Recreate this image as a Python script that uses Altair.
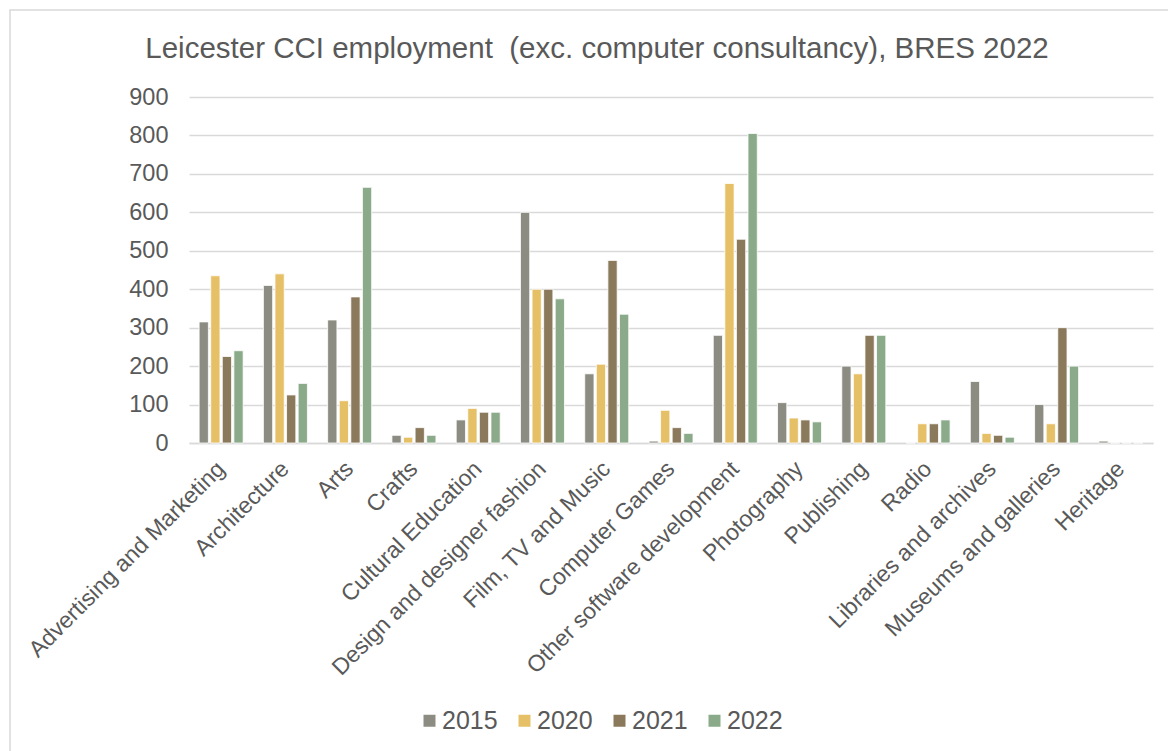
import altair as alt
import pandas as pd

categories = [
    "Advertising and Marketing", "Architecture", "Arts", "Crafts",
    "Cultural Education", "Design and designer fashion", "Film, TV and Music",
    "Computer Games", "Other software development", "Photography",
    "Publishing", "Radio", "Libraries and archives", "Museums and galleries",
    "Heritage",
]
years = ["2015", "2020", "2021", "2022"]
v2015 = [315, 410, 320, 20, 60, 600, 180, 5, 280, 105, 200, 0, 160, 100, 5]
v2020 = [435, 440, 110, 15, 90, 400, 205, 85, 675, 65, 180, 50, 25, 50, 0]
v2021 = [225, 125, 380, 40, 80, 400, 475, 40, 530, 60, 280, 50, 20, 300, 0]
v2022 = [240, 155, 665, 20, 80, 375, 335, 25, 805, 55, 280, 60, 15, 200, 0]
colors = ["#8C8C83", "#E6C067", "#8B795B", "#8AAA8A"]
y_ticks = [0, 100, 200, 300, 400, 500, 600, 700, 800, 900]

rows = []
for i, c in enumerate(categories):
    for yr, vals in zip(years, [v2015, v2020, v2021, v2022]):
        rows.append({"category": c, "year": yr, "value": vals[i]})
df = pd.DataFrame(rows)

FONT = "Liberation Sans"
TXT = "#595959"

W, H = 964, 346
LEFT, TOP = 189, 97

border = alt.Chart(pd.DataFrame({"a": [0]})).mark_rect(
    fillOpacity=0, stroke="#D9D9D9", strokeWidth=1.5
).encode(
    x=alt.value(10 - LEFT), x2=alt.value(1200 - LEFT),
    y=alt.value(10 - TOP), y2=alt.value(800 - TOP),
)

bars = alt.Chart(df).mark_bar(stroke="white", strokeWidth=0.8).encode(
    x=alt.X(
        "category:N", sort=categories,
        scale=alt.Scale(paddingInner=0.315, paddingOuter=0.1575),
        axis=alt.Axis(
            title=None, labelAngle=-45, labelAlign="right", labelBaseline="middle",
            labelFont=FONT, labelFontSize=23, labelColor=TXT, labelPadding=22,
            ticks=False, domainColor="#D9D9D9", domainWidth=1.5, labelLimit=400,
        ),
    ),
    xOffset=alt.XOffset("year:N", sort=years, scale=alt.Scale(paddingInner=0.2)),
    y=alt.Y(
        "value:Q", scale=alt.Scale(domain=[0, 900], nice=False),
        axis=alt.Axis(
            title=None, values=y_ticks, domain=False, ticks=False,
            labelFont=FONT, labelFontSize=23.5, labelColor=TXT, labelPadding=21,
            gridColor="#D9D9D9", gridWidth=1.3,
        ),
    ),
    color=alt.Color(
        "year:N", sort=years,
        scale=alt.Scale(domain=years, range=colors),
        legend=alt.Legend(
            title=None, orient="none", direction="horizontal",
            legendX=417 - LEFT, legendY=708 - TOP,
            symbolType="square", symbolSize=144, symbolStrokeWidth=0,
            labelFont=FONT, labelFontSize=25, labelColor=TXT,
            labelOffset=0, columnPadding=14,
        ),
    ),
)

chart = alt.layer(border, bars).properties(
    width=W, height=H,
    autosize=alt.AutoSizeParams(type="none"),
    padding={"left": LEFT, "top": TOP, "right": 1168 - LEFT - W, "bottom": 751 - TOP - H},
    title=alt.Title(
        "Leicester CCI employment\u00a0 (exc. computer consultancy), BRES 2022",
        font=FONT, fontSize=29.5, fontWeight="normal", color=TXT,
        anchor="middle", dx=597 - (LEFT + W / 2), offset=-78,
        baseline="alphabetic",
    ),
).configure_view(strokeWidth=0)

chart.save("out.html", embed_options={"renderer": "svg", "actions": False})
